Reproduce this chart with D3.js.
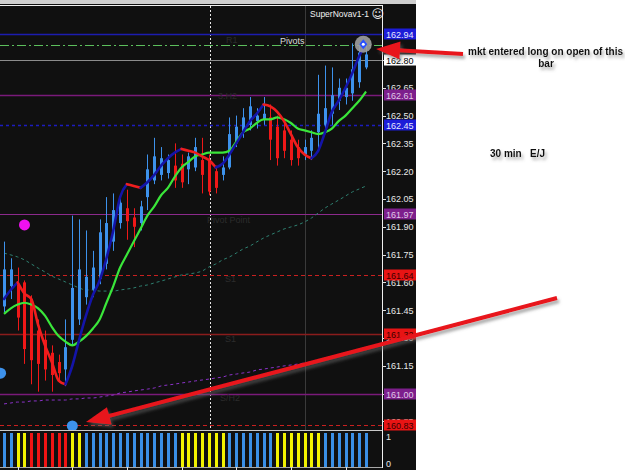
<!DOCTYPE html>
<html lang="en">
<head>
    <meta charset="UTF-8">
    <title>SuperNova 30 min E/J</title>
    <script type="text/javascript" src="https://cdnjs.cloudflare.com/ajax/libs/d3/7.8.5/d3.min.js"></script>
    <style type="text/css">
        body { margin: 0; background: #fff; }
        svg { display: block; font-family: "Liberation Sans", "DejaVu Sans", sans-serif; }
    </style>
</head>
<body>
    <script type="text/javascript">
        //EUR/JPY 30 min bars
        var opens = [161.47, 161.58, 161.59, 161.60, 161.51, 161.34, 161.29, 161.22, 161.17, 161.13,
            161.29, 161.40, 161.52, 161.56, 161.62, 161.70, 161.82, 161.92, 162.00, 161.95,
            161.92, 162.06, 162.15, 162.18, 162.19, 162.23, 162.24, 162.21, 162.22, 162.26,
            162.26, 162.20, 162.18, 162.22, 162.35, 162.41, 162.45, 162.47, 162.48, 162.49,
            162.44, 162.42, 162.37, 162.33, 162.29, 162.31, 162.41, 162.45, 162.51, 162.58,
            162.60, 162.62, 162.68, 162.76];
        var highs = [161.82, 161.73, 161.68, 161.61, 161.53, 161.40, 161.34, 161.26, 161.21, 161.40,
            161.96, 161.94, 161.88, 161.77, 161.94, 162.06, 162.08, 162.07, 162.10, 162.00,
            162.04, 162.29, 162.38, 162.33, 162.29, 162.35, 162.29, 162.30, 162.38, 162.38,
            162.29, 162.23, 162.28, 162.49, 162.50, 162.54, 162.60, 162.54, 162.60, 162.56,
            162.50, 162.48, 162.42, 162.37, 162.37, 162.42, 162.72, 162.77, 162.76, 162.70,
            162.70, 162.89, 162.89, 162.88];
        var lows = [161.44, 161.51, 161.34, 161.16, 161.05, 161.01, 161.07, 161.01, 161.06, 161.04,
            161.26, 161.37, 161.48, 161.52, 161.59, 161.67, 161.77, 161.89, 161.83, 161.79,
            161.88, 161.99, 162.13, 162.15, 162.16, 162.11, 162.11, 162.13, 162.20, 162.08,
            162.07, 162.08, 162.15, 162.21, 162.33, 162.38, 162.42, 162.43, 162.45, 162.26,
            162.23, 162.27, 162.23, 162.23, 162.26, 162.26, 162.31, 162.40, 162.45, 162.53,
            162.56, 162.58, 162.65, 162.75];
        var closes = [161.67, 161.67, 161.41, 161.24, 161.18, 161.16, 161.13, 161.10, 161.11, 161.25,
            161.57, 161.67, 161.63, 161.68, 161.87, 161.92, 161.99, 162.03, 161.93, 161.90,
            162.01, 162.21, 162.28, 162.27, 162.26, 162.15, 162.14, 162.28, 162.33, 162.18,
            162.09, 162.11, 162.22, 162.40, 162.44, 162.49, 162.55, 162.50, 162.51, 162.37,
            162.27, 162.31, 162.26, 162.27, 162.33, 162.38, 162.51, 162.54, 162.61, 162.65,
            162.65, 162.75, 162.84, 162.83];

        //moving averages
        var fastMa = [161.51, 161.56, 161.60, 161.54, 161.51, 161.37, 161.26, 161.17, 161.07, 161.05,
            161.15, 161.29, 161.42, 161.53, 161.61, 161.73, 161.88, 162.06, 162.13, 162.12,
            162.11, 162.14, 162.18, 162.23, 162.27, 162.30, 162.32, 162.31, 162.30, 162.28,
            162.26, 162.22, 162.24, 162.29, 162.35, 162.41, 162.47, 162.51, 162.56, 162.55,
            162.52, 162.47, 162.40, 162.33, 162.29, 162.27, 162.31, 162.41, 162.52, 162.58,
            162.65, 162.73, 162.82, 162.89];
        var midMa = [161.43, 161.46, 161.48, 161.49, 161.48, 161.46, 161.42, 161.36, 161.31, 161.28,
            161.26, 161.28, 161.31, 161.35, 161.40, 161.49, 161.58, 161.68, 161.75, 161.82,
            161.89, 161.96, 162.01, 162.07, 162.11, 162.17, 162.22, 162.25, 162.28, 162.29,
            162.30, 162.30, 162.30, 162.31, 162.36, 162.41, 162.43, 162.46, 162.48, 162.48,
            162.49, 162.48, 162.46, 162.43, 162.42, 162.41, 162.40, 162.41, 162.43, 162.47,
            162.50, 162.54, 162.58, 162.63];
        var slowMa = [161.758, 161.748, 161.737, 161.721, 161.699, 161.677, 161.656, 161.634, 161.618, 161.602,
            161.586, 161.570, 161.559, 161.559, 161.553, 161.553, 161.553, 161.559, 161.564, 161.570,
            161.580, 161.586, 161.597, 161.607, 161.618, 161.629, 161.640, 161.645, 161.651, 161.661,
            161.683, 161.699, 161.721, 161.737, 161.758, 161.780, 161.796, 161.818, 161.839, 161.856,
            161.872, 161.888, 161.899, 161.910, 161.926, 161.947, 161.974, 162.001, 162.023, 162.044,
            162.066, 162.088, 162.104, 162.120];
        var slowestMa = [160.944, 160.949, 160.954, 160.954, 160.960, 160.960, 160.965, 160.965, 160.965, 160.965,
            160.971, 160.971, 160.976, 160.976, 160.981, 160.987, 160.992, 161.003, 161.008, 161.014,
            161.019, 161.024, 161.030, 161.041, 161.046, 161.051, 161.057, 161.062, 161.068, 161.073,
            161.078, 161.084, 161.089, 161.100, 161.105, 161.111, 161.116, 161.127, 161.132, 161.138,
            161.143, 161.149, 161.154, 161.159, 161.165, 161.170, 161.176, 161.181];

        //SuperNova histogram state per bar (b = long, y = flat, r = short)
        var panelState = ["b", "b", "y", "y", "r", "r", "r", "r", "r", "r",
            "y", "y", "b", "b", "b", "b", "b", "b", "b", "b",
            "b", "b", "b", "b", "b", "b", "y", "y", "y", "y",
            "y", "y", "y", "b", "b", "b", "b", "b", "b", "b",
            "y", "y", "y", "y", "y", "y", "y", "b", "b", "b",
            "b", "b", "b", "b"];

        //pivot levels
        var levelNames = ["H4", "Pivots", "Bid", "H3", "R1", "PP", "S1", "S2", "L3", "L4"];
        var levelPrices = [162.94, 162.88, 162.80, 162.61, 162.45, 161.97, 161.64, 161.32, 161.00, 160.83];

        //signal dots: bar index and price
        var dotBars = [-0.5, 3, 10];
        var dotPrices = [161.11, 161.91, 160.825];
        var dotKinds = ["long", "short", "long"];

        var priceTicks = [162.80, 162.65, 162.50, 162.35, 162.20, 162.05, 161.90, 161.75,
            161.60, 161.45, 161.30, 161.15, 161.00, 160.85];
        var timeTickBars = [2, 10, 18, 26, 34, 42, 50];
        var separatorBar = 44;
        var cursorBar = 30;
        var entryBar = 52.6;

        //Width and height
        var w = 625;
        var h = 470;
        var plotRight = 382;
        var plotTop = 6;
        var plotBottom = 430;
        var axisRight = 416;

        var xScale = d3.scaleLinear()
            .domain([0, opens.length - 1])
            .range([4, 366]);

        var yScale = d3.scaleLinear()
            .domain([160.80, 162.80])
            .range([430.6, 60]);

        var yPanel = d3.scaleLinear()
            .domain([-0.15, 1.15])
            .range([467, 433]);

        var fmt = d3.format(".2f");

        var levelStyle = {
            H4:     { line: "#1c1cb0", dash: null,      width: 1.5, box: "#1c1cd8", text: "#e8e8ff" },
            Pivots: { line: "#5cbf5c", dash: "9,3,2,3", width: 1,   box: null },
            Bid:    { line: "#8c8c8c", dash: null,      width: 1.2, box: "#ffffff", text: "#000" },
            H3:     { line: "#7a1a7a", dash: null,      width: 1.5, box: "#7d1f8c", text: "#e0c8e8" },
            R1:     { line: "#1c1cc0", dash: "3,3",     width: 1.3, box: "#1c1cd8", text: "#e8e8ff" },
            PP:     { line: "#8c2a8c", dash: null,      width: 1.2, box: "#7d1f8c", text: "#e0c8e8" },
            S1:     { line: "#c82020", dash: "4,3",     width: 1,   box: "#e81414", text: "#3a0000" },
            S2:     { line: "#8a1c1c", dash: null,      width: 1.5, box: "#e81414", text: "#3a0000" },
            L3:     { line: "#7a1a7a", dash: null,      width: 1.5, box: "#7d1f8c", text: "#e0c8e8" },
            L4:     { line: "#c82020", dash: "4,3",     width: 1,   box: "#e81414", text: "#3a0000" }
        };
        var stateColor = { b: "#3a8fe6", y: "#f2f200", r: "#f01414" };

        //Create SVG element
        var svg = d3.select("body")
            .append("svg")
            .attr("width", w)
            .attr("height", h);

        var defs = svg.append("defs");
        var shadow = defs.append("filter")
            .attr("id", "shadow")
            .attr("x", "-20%").attr("y", "-60%")
            .attr("width", "150%").attr("height", "220%");
        shadow.append("feDropShadow")
            .attr("dx", 2).attr("dy", 3)
            .attr("stdDeviation", 1.6)
            .attr("flood-color", "#666")
            .attr("flood-opacity", 0.55);
        defs.append("clipPath")
            .attr("id", "plotClip")
            .append("rect")
            .attr("x", 0).attr("y", plotTop)
            .attr("width", plotRight).attr("height", plotBottom - plotTop);

        //backgrounds
        svg.append("rect").attr("width", w).attr("height", h).attr("fill", "#fff");
        svg.append("rect").attr("width", axisRight).attr("height", h).attr("fill", "#101010");
        svg.append("rect").attr("width", axisRight).attr("height", 4).attr("fill", "#cfcfcf");
        svg.append("line")
            .attr("x1", 0).attr("x2", plotRight)
            .attr("y1", 5.5).attr("y2", 5.5)
            .attr("stroke", "#f0f0f0");

        var plot = svg.append("g").attr("clip-path", "url(#plotClip)");

        //period separator and cursor line
        plot.append("line")
            .attr("x1", Math.round(xScale(separatorBar)) + 0.5)
            .attr("x2", Math.round(xScale(separatorBar)) + 0.5)
            .attr("y1", plotTop).attr("y2", plotBottom)
            .attr("stroke", "#3a3a3a");
        plot.append("line")
            .attr("x1", Math.round(xScale(cursorBar)) + 1.5)
            .attr("x2", Math.round(xScale(cursorBar)) + 1.5)
            .attr("y1", plotTop).attr("y2", plotBottom)
            .attr("stroke", "#e6e6e6")
            .attr("stroke-dasharray", "2,2");

        //pivot lines
        plot.selectAll(".level")
            .data(levelPrices)
            .enter()
            .append("line")
            .attr("class", "level")
            .attr("x1", 0).attr("x2", plotRight)
            .attr("y1", function(d) { return Math.round(yScale(d)) + 0.5; })
            .attr("y2", function(d) { return Math.round(yScale(d)) + 0.5; })
            .attr("stroke", function(d, i) { return levelStyle[levelNames[i]].line; })
            .attr("stroke-width", function(d, i) { return levelStyle[levelNames[i]].width; })
            .attr("stroke-dasharray", function(d, i) { return levelStyle[levelNames[i]].dash; });

        //faint pivot captions
        var captions = [["R1", 226, 162.89], ["3.H2", 218, 162.59], ["Pivot Point", 207, 161.92],
            ["S1", 225, 161.60], ["S1", 225, 161.28], ["S/H2", 220, 160.96]];
        plot.selectAll(".caption")
            .data(captions)
            .enter()
            .append("text")
            .attr("class", "caption")
            .attr("x", function(d) { return d[1]; })
            .attr("y", function(d) { return yScale(d[2]); })
            .attr("font-size", "9px")
            .attr("fill", "#2c2c2c")
            .text(function(d) { return d[0]; });

        plot.append("text")
            .attr("x", 280).attr("y", 44)
            .attr("font-size", "9px")
            .attr("fill", "#dcdcdc")
            .text("Pivots");

        //slow moving averages (dashed)
        var lineGen = d3.line()
            .x(function(d, i) { return xScale(i); })
            .y(function(d) { return yScale(d); })
            .curve(d3.curveMonotoneX);

        plot.append("path")
            .attr("d", lineGen(slowestMa))
            .attr("fill", "none")
            .attr("stroke", "#8a32c8")
            .attr("stroke-width", 1)
            .attr("stroke-dasharray", "3,3");
        plot.append("path")
            .attr("d", lineGen(slowMa))
            .attr("fill", "none")
            .attr("stroke", "#2e8070")
            .attr("stroke-width", 1)
            .attr("stroke-dasharray", "3,3");

        //candles
        var bars = d3.range(opens.length);
        var candleColor = function(i) { return closes[i] >= opens[i] ? "#3d92ec" : "#f01818"; };

        plot.selectAll(".wick")
            .data(bars)
            .enter()
            .append("line")
            .attr("class", "wick")
            .attr("x1", function(i) { return Math.round(xScale(i)) + 0.5; })
            .attr("x2", function(i) { return Math.round(xScale(i)) + 0.5; })
            .attr("y1", function(i) { return yScale(highs[i]); })
            .attr("y2", function(i) { return yScale(lows[i]); })
            .attr("stroke", candleColor);

        plot.selectAll(".body")
            .data(bars)
            .enter()
            .append("rect")
            .attr("class", "body")
            .attr("x", function(i) { return Math.round(xScale(i)) - 1; })
            .attr("y", function(i) { return yScale(Math.max(opens[i], closes[i])); })
            .attr("width", 3)
            .attr("height", function(i) {
                return Math.max(1, yScale(Math.min(opens[i], closes[i])) - yScale(Math.max(opens[i], closes[i])));
            })
            .attr("fill", candleColor);

        //medium moving average
        plot.append("path")
            .attr("d", lineGen(midMa))
            .attr("fill", "none")
            .attr("stroke", "#3ae63a")
            .attr("stroke-width", 2.2);

        //fast moving average, blue when rising and red when falling
        var runs = [];
        for (var i = 1; i < fastMa.length; i++) {
            var up = fastMa[i] >= fastMa[i - 1];
            var last = runs[runs.length - 1];
            if (last && last.up === up) {
                last.idx.push(i);
            } else {
                runs.push({ up: up, idx: [i - 1, i] });
            }
        }
        var runGen = d3.line()
            .x(function(i) { return xScale(i); })
            .y(function(i) { return yScale(fastMa[i]); })
            .curve(d3.curveMonotoneX);
        plot.selectAll(".fast")
            .data(runs)
            .enter()
            .append("path")
            .attr("class", "fast")
            .attr("d", function(r) { return runGen(r.idx); })
            .attr("fill", "none")
            .attr("stroke", function(r) { return r.up ? "#1414a8" : "#f01e1e"; })
            .attr("stroke-width", 2.6)
            .attr("stroke-linecap", "round");

        //signal dots
        plot.selectAll(".dot")
            .data(dotBars)
            .enter()
            .append("circle")
            .attr("class", "dot")
            .attr("cx", function(d) { return xScale(d); })
            .attr("cy", function(d, i) { return yScale(dotPrices[i]); })
            .attr("r", 5.5)
            .attr("fill", function(d, i) { return dotKinds[i] === "long" ? "#3d92ec" : "#f010f0"; });

        //entry marker
        var entry = plot.append("g")
            .attr("transform", "translate(" + xScale(entryBar) + "," + yScale(162.885) + ")");
        entry.append("circle").attr("r", 8.5).attr("fill", "#a0a0a0").attr("opacity", 0.9);
        entry.append("path").attr("d", "M0,-5L4,0L0,5L-4,0Z").attr("fill", "#2850ff");
        entry.append("circle").attr("r", 1.5).attr("fill", "#fff");

        //right border
        svg.append("line")
            .attr("x1", plotRight + 0.5).attr("x2", plotRight + 0.5)
            .attr("y1", 5).attr("y2", 468)
            .attr("stroke", "#f0f0f0");

        //price axis
        var ticks = svg.append("g");
        ticks.selectAll("line")
            .data(priceTicks)
            .enter()
            .append("line")
            .attr("x1", plotRight).attr("x2", plotRight + 4)
            .attr("y1", function(d) { return Math.round(yScale(d)) + 0.5; })
            .attr("y2", function(d) { return Math.round(yScale(d)) + 0.5; })
            .attr("stroke", "#e0e0e0");
        ticks.selectAll("text")
            .data(priceTicks)
            .enter()
            .append("text")
            .attr("x", plotRight + 4)
            .attr("y", function(d) { return yScale(d) + 3.5; })
            .attr("font-size", "9px")
            .attr("fill", "#e8e8e8")
            .text(function(d) { return fmt(d); });

        //price boxes for the levels
        var boxed = d3.range(levelPrices.length).filter(function(i) { return levelStyle[levelNames[i]].box; });
        var boxes = svg.selectAll(".lbox")
            .data(boxed)
            .enter()
            .append("g")
            .attr("class", "lbox")
            .attr("transform", function(i) { return "translate(" + (plotRight + 2) + "," + Math.round(yScale(levelPrices[i])) + ")"; });
        boxes.append("rect")
            .attr("x", 0).attr("y", -5.5)
            .attr("width", axisRight - plotRight - 2).attr("height", 11)
            .attr("fill", function(i) { return levelStyle[levelNames[i]].box; });
        boxes.append("text")
            .attr("x", 2).attr("y", 3.5)
            .attr("font-size", "9px")
            .attr("fill", function(i) { return levelStyle[levelNames[i]].text; })
            .text(function(i) { return fmt(levelPrices[i]); });

        //indicator name
        var title = svg.append("text")
            .attr("x", 310).attr("y", 17)
            .attr("font-size", "8.5px")
            .attr("fill", "#f0f0f0");
        title.append("tspan").text("SuperNovav1-1 ");
        title.append("tspan").attr("font-size", "12px").attr("font-family", "DejaVu Sans").attr("dy", 1).text("\u263A");

        //SuperNova histogram panel
        svg.append("line")
            .attr("x1", 0).attr("x2", plotRight)
            .attr("y1", 430.5).attr("y2", 430.5)
            .attr("stroke", "#c8c8c8");
        svg.append("line")
            .attr("x1", 0).attr("x2", plotRight)
            .attr("y1", 467.5).attr("y2", 467.5)
            .attr("stroke", "#a8a8a8");

        svg.selectAll(".hist")
            .data(panelState)
            .enter()
            .append("rect")
            .attr("class", "hist")
            .attr("x", function(d, i) { return Math.round(xScale(i)) - 1; })
            .attr("y", yPanel(1.15))
            .attr("width", 3)
            .attr("height", yPanel(-0.15) - yPanel(1.15))
            .attr("fill", function(d) { return stateColor[d]; });

        svg.selectAll(".plabel")
            .data([1, 0])
            .enter()
            .append("text")
            .attr("class", "plabel")
            .attr("x", plotRight + 4)
            .attr("y", function(d) { return yPanel(d) + 3.5; })
            .attr("font-size", "9px")
            .attr("fill", "#e8e8e8")
            .text(function(d) { return d; });

        svg.selectAll(".ttick")
            .data(timeTickBars)
            .enter()
            .append("line")
            .attr("class", "ttick")
            .attr("x1", function(d) { return Math.round(xScale(d)) + 0.5; })
            .attr("x2", function(d) { return Math.round(xScale(d)) + 0.5; })
            .attr("y1", 467).attr("y2", 470)
            .attr("stroke", "#e0e0e0");

        //hand drawn annotations
        function arrow(x1, y1, x2, y2) {
            var dx = x2 - x1, dy = y2 - y1;
            var len = Math.sqrt(dx * dx + dy * dy);
            var ux = dx / len, uy = dy / len;
            var bx = x2 - ux * 24, by = y2 - uy * 24;
            var g = svg.append("g").attr("filter", "url(#shadow)");
            g.append("line")
                .attr("x1", x1).attr("y1", y1)
                .attr("x2", bx + ux * 2).attr("y2", by + uy * 2)
                .attr("stroke", "#e8141c")
                .attr("stroke-width", 4);
            g.append("path")
                .attr("d", "M" + x2 + "," + y2 +
                    "L" + (bx - uy * 9) + "," + (by + ux * 9) +
                    "L" + (bx + uy * 9) + "," + (by - ux * 9) + "Z")
                .attr("fill", "#e8141c");
        }
        arrow(463, 54, 376, 49);
        arrow(557, 298, 86, 422);

        var notes = svg.append("g")
            .attr("filter", "url(#shadow)")
            .attr("font-size", "10px")
            .attr("font-weight", "bold")
            .attr("fill", "#111");
        notes.append("text").attr("x", 468).attr("y", 55).text("mkt entered long on open of this");
        notes.append("text").attr("x", 546).attr("y", 67).attr("text-anchor", "middle").text("bar");
        notes.append("text").attr("x", 490).attr("y", 157).text("30 min");
        notes.append("text").attr("x", 530).attr("y", 157).text("E/J");
    </script>
</body>
</html>
